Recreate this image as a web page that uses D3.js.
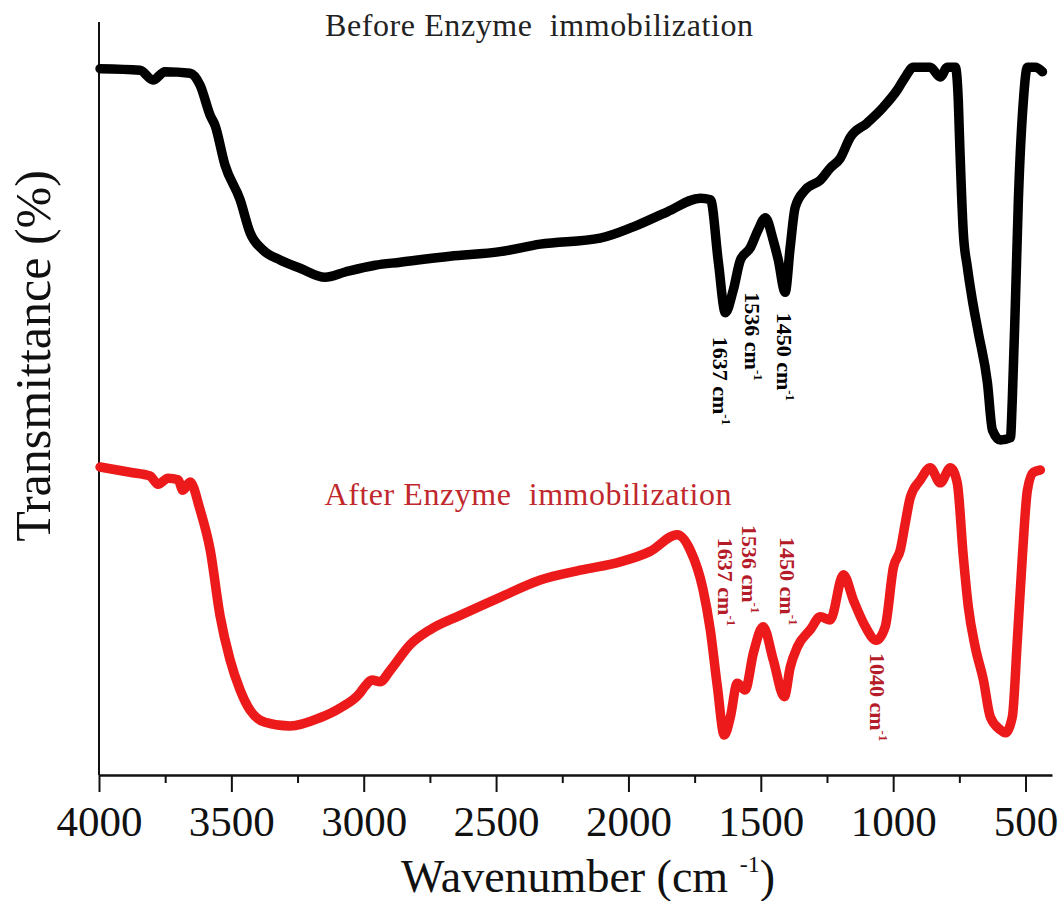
<!DOCTYPE html>
<html>
<head>
<meta charset="utf-8">
<script src="https://cdn.jsdelivr.net/npm/d3@7"></script>
<style>
  body { margin: 0; background: #fff; }
  svg { display: block; font-family: "Liberation Serif", "Times New Roman", serif; }
</style>
</head>
<body>
<svg id="chart" width="1060" height="901"></svg>
<script>
'use strict';

// wavenumber (cm-1)
var beforeWn = [3996, 3845, 3796, 3751, 3656, 3618, 3580, 3562, 3524, 3467, 3429, 3380, 3316, 3240, 3146, 3070,
  2957, 2862, 2674, 2485, 2333, 2107, 1982, 1853, 1728, 1690, 1660, 1634, 1604, 1577, 1540, 1510, 1483, 1453,
  1434, 1408, 1389, 1370, 1332, 1275, 1238, 1200, 1162, 1098, 1037, 984, 954, 924, 860, 822, 795, 765, 754,
  750, 735, 720, 701, 678, 644, 625, 595, 557, 550, 538, 527, 508, 493, 463, 436];
var beforeT = [93.8, 93.6, 92.3, 93.4, 93.2, 91.6, 87.6, 86.3, 81.0, 76.4, 72.0, 69.7, 68.4, 67.3, 66.1, 66.8,
  67.7, 68.1, 68.9, 69.5, 70.5, 71.3, 72.8, 74.8, 76.6, 76.4, 68.0, 61.4, 64.4, 68.4, 70.0, 72.4, 74.0, 71.0,
  68.4, 64.1, 70.1, 75.4, 77.7, 79.0, 80.6, 81.9, 84.7, 86.6, 88.7, 91.0, 92.7, 94.0, 94.0, 92.7, 94.0, 94.0, 89.6,
  85.3, 72.0, 67.5, 63.1, 58.7, 52.1, 45.8, 44.5, 44.8, 49.8, 63.1, 76.4, 89.6, 94.0, 94.0, 93.4];

var afterWn = [3996, 3883, 3807, 3777, 3739, 3701, 3683, 3656, 3618, 3580, 3543, 3505, 3467, 3429, 3373, 3278,
  3165, 3089, 3014, 2995, 2969, 2938, 2900, 2825, 2749, 2636, 2485, 2333, 2182, 2031, 1918, 1816, 1767, 1718,
  1691, 1664, 1638, 1615, 1589, 1559, 1528, 1491, 1453, 1411, 1389, 1362, 1313, 1275, 1238, 1188, 1150, 1105,
  1064, 1030, 999, 973, 954, 935, 897, 860, 822, 784, 758, 735, 716, 690, 659, 633, 595, 576, 550, 531, 512,
  493, 470, 444];
var afterT = [40.9, 40.2, 39.7, 38.6, 39.4, 39.2, 37.8, 38.9, 35.2, 29.9, 21.2, 15.3, 11.3, 8.6, 7.0, 6.5,
  7.6, 8.9, 10.9, 11.8, 12.6, 12.4, 13.9, 17.3, 19.3, 21.2, 23.6, 25.9, 27.2, 28.3, 29.7, 31.9, 29.9, 24.6,
  19.3, 11.7, 5.3, 7.7, 12.2, 11.3, 16.2, 19.7, 15.3, 10.4, 14.3, 17.0, 19.3, 21.0, 20.6, 26.6, 23.2, 19.7,
  17.9, 19.7, 27.6, 29.9, 33.5, 36.9, 39.2, 40.8, 38.8, 40.8, 38.8, 29.0, 22.3, 17.0, 12.6, 7.7, 6.0, 5.6, 7.7,
  17.9, 29.0, 37.8, 40.2, 40.5];

var xTicksMajor = [4000, 3500, 3000, 2500, 2000, 1500, 1000, 500];
var xTicksMinor = [3750, 3250, 2750, 2250, 1750, 1250, 750];

// peak labels: text, wavenumber / transmittance where the label starts
var beforePeakText = ['1637', '1536', '1450'];
var beforePeakWn = [1680, 1559, 1438];
var beforePeakT = [58.2, 64.1, 61.4];

var afterPeakText = ['1637', '1536', '1450', '1040'];
var afterPeakWn = [1661, 1570, 1426, 1086];
var afterPeakT = [31.5, 33.2, 31.6, 16.2];

var svg = d3.select('#chart');

var x = d3.scaleLinear().domain([4000, 400]).range([99, 1052]);
var y = d3.scaleLinear().domain([0, 100]).range([775, 22]);

// axes
svg.append('line')
  .attr('x1', x(4000)).attr('x2', x(4000))
  .attr('y1', y(100)).attr('y2', y(0))
  .attr('stroke', '#111').attr('stroke-width', 2);

var xAxis = svg.append('g')
  .attr('transform', 'translate(0,' + y(0) + ')')
  .call(d3.axisBottom(x).tickValues(xTicksMajor).tickFormat(d3.format('d'))
    .tickSize(17).tickSizeOuter(0).tickPadding(13));
xAxis.select('.domain').attr('stroke', '#111').attr('stroke-width', 2.5);
xAxis.selectAll('.tick line').attr('stroke', '#111').attr('stroke-width', 2);
xAxis.selectAll('.tick text')
  .attr('font-size', 43)
  .attr('fill', '#111')
  .attr('font-family', '"Liberation Serif", "Times New Roman", serif');

svg.append('g')
  .attr('transform', 'translate(0,' + y(0) + ')')
  .call(d3.axisBottom(x).tickValues(xTicksMinor).tickSize(8).tickSizeOuter(0).tickFormat(''))
  .call(function (g) {
    g.select('.domain').remove();
    g.selectAll('.tick line').attr('stroke', '#111').attr('stroke-width', 2);
  });

// axis titles
var xTitle = svg.append('text')
  .attr('x', 588).attr('y', 892)
  .attr('text-anchor', 'middle')
  .attr('font-size', 46)
  .attr('fill', '#111')
  .style('white-space', 'pre');
xTitle.append('tspan').text('Wavenumber (cm ');
xTitle.append('tspan').attr('dy', -20).attr('font-size', 24).text('-1');
xTitle.append('tspan').attr('dy', 20).text(')');

svg.append('text')
  .attr('transform', 'translate(50,356) rotate(-90)')
  .attr('text-anchor', 'middle')
  .attr('font-size', 50)
  .attr('fill', '#111')
  .text('Transmittance (%)');

// spectra
var line = d3.line()
  .x(function (d) { return x(d[0]); })
  .y(function (d) { return y(d[1]); })
  .curve(d3.curveMonotoneX);

svg.append('path')
  .datum(d3.zip(beforeWn, beforeT))
  .attr('d', line)
  .attr('fill', 'none')
  .attr('stroke', '#000')
  .attr('stroke-width', 9.5)
  .attr('stroke-linejoin', 'round')
  .attr('stroke-linecap', 'round');

svg.append('path')
  .datum(d3.zip(afterWn, afterT))
  .attr('d', line)
  .attr('fill', 'none')
  .attr('stroke', '#ec1a1a')
  .attr('stroke-width', 9.5)
  .attr('stroke-linejoin', 'round')
  .attr('stroke-linecap', 'round');

// curve titles
svg.append('text')
  .attr('x', 539).attr('y', 36)
  .attr('text-anchor', 'middle')
  .attr('font-size', 32)
  .attr('textLength', 428)
  .attr('fill', '#222')
  .style('white-space', 'pre')
  .text('Before Enzyme  immobilization');

svg.append('text')
  .attr('x', 528).attr('y', 505)
  .attr('text-anchor', 'middle')
  .attr('font-size', 32)
  .attr('textLength', 407)
  .attr('fill', '#c0282d')
  .style('white-space', 'pre')
  .text('After Enzyme  immobilization');

// peak labels
function addPeaks(texts, wns, ts, color) {
  texts.forEach(function (t, i) {
    var lbl = svg.append('text')
      .attr('transform', 'translate(' + x(wns[i]) + ',' + y(ts[i]) + ') rotate(90)')
      .attr('font-size', 22)
      .attr('font-weight', 'bold')
      .attr('fill', color);
    lbl.append('tspan').text(t + ' cm');
    lbl.append('tspan').attr('dy', -9).attr('font-size', 13).text('-1');
  });
}
addPeaks(beforePeakText, beforePeakWn, beforePeakT, '#000');
addPeaks(afterPeakText, afterPeakWn, afterPeakT, '#b51c2a');
</script>
</body>
</html>
